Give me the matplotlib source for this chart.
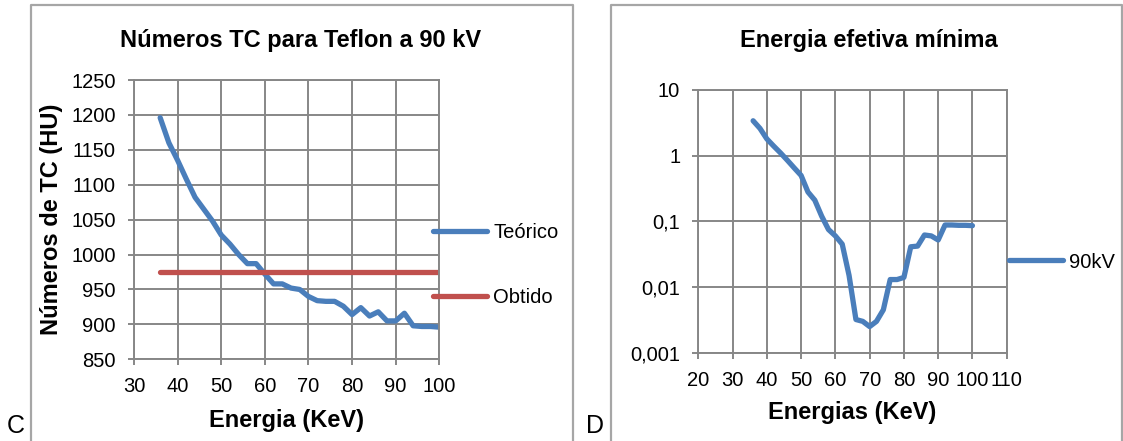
import numpy as np
import matplotlib.pyplot as plt
from matplotlib.lines import Line2D

plt.rcParams['font.family'] = ['Liberation Sans', 'DejaVu Sans']

# chart C: CT numbers for Teflon at 90 kV
energia_c = [36, 38, 40, 42, 44, 46, 48, 50, 52, 54, 56, 58, 60, 62, 64, 66, 68,
             70, 72, 74, 76, 78, 80, 82, 84, 86, 88, 90, 92, 94, 96, 98, 100]
teorico = [1196, 1160, 1135, 1108, 1082, 1065, 1048, 1028, 1015, 1000, 987, 987,
           972, 958, 958, 952, 950, 940, 934, 933, 933, 926, 914, 924, 912, 918,
           905, 905, 916, 898, 897, 897, 896]
obtido = [975] * len(energia_c)
xticks_c = [30, 40, 50, 60, 70, 80, 90, 100]
yticks_c = [850, 900, 950, 1000, 1050, 1100, 1150, 1200, 1250]

# chart D: minimum effective energy
energia_d = [36, 38, 40, 42, 44, 46, 48, 50, 52, 54, 56, 58, 60, 62, 64, 66, 68,
             70, 72, 74, 76, 78, 80, 82, 84, 86, 88, 90, 92, 94, 96, 98, 100]
kv90 = [3.4, 2.6, 1.8, 1.4, 1.1, 0.85, 0.65, 0.5, 0.28, 0.21, 0.12, 0.075, 0.06,
        0.045, 0.015, 0.0032, 0.003, 0.0025, 0.003, 0.0045, 0.013, 0.013, 0.014,
        0.041, 0.042, 0.062, 0.06, 0.052, 0.088, 0.088, 0.087, 0.087, 0.086]
xticks_d = [20, 30, 40, 50, 60, 70, 80, 90, 100, 110]
yticks_d = [0.001, 0.01, 0.1, 1, 10]
ylabels_d = ['0,001', '0,01', '0,1', '1', '10']

W, H = 1123, 441
BLUE = '#4a7ebb'
RED = '#c0504d'
GRID = '#878787'
LW = 3.8

fig = plt.figure(figsize=(W / 100, H / 100), dpi=100)


def px(x0, y0, x1, y1):
    # pixel box (top-left origin) -> figure fraction rect
    return [x0 / W, 1 - y1 / H, (x1 - x0) / W, (y1 - y0) / H]


def style(ax, pad):
    ax.grid(True, color=GRID, linewidth=1.4)
    ax.set_axisbelow(True)
    for s in ax.spines.values():
        s.set_color(GRID)
        s.set_linewidth(1.4)
    ax.tick_params(which='major', direction='out', length=4, width=1.4,
                   color=GRID, labelsize=14.5, pad=pad)
    ax.tick_params(which='minor', length=0)


# ---- C ----
ax1 = fig.add_axes(px(134, 80, 439.3, 359.3))
ax1.plot(energia_c, teorico, color=BLUE, lw=LW, solid_capstyle='round',
         solid_joinstyle='round', label='Teórico')
ax1.plot(energia_c, obtido, color=RED, lw=LW, solid_capstyle='round',
         label='Obtido')
ax1.set_xlim(30, 100)
ax1.set_ylim(850, 1250)
ax1.set_xticks(xticks_c)
ax1.set_yticks(yticks_c)
style(ax1, 9)
ax1.set_xlabel('Energia (KeV)', fontsize=17, fontweight='bold', labelpad=9)
ax1.set_ylabel('Números de TC (HU)', fontsize=17, fontweight='bold', labelpad=6)
fig.text(301 / W, 1 - 40 / H, 'Números TC para Teflon a 90 kV', fontsize=17,
         fontweight='bold', ha='center', va='center')
ax1.legend(loc='center left', bbox_to_anchor=(433 / W, 1 - 265 / H),
           bbox_transform=fig.transFigure, frameon=False, fontsize=14.5,
           handlelength=2.7, handletextpad=0.3, labelspacing=2.25,
           borderpad=0, borderaxespad=0)

# ---- D ----
ax2 = fig.add_axes(px(698.3, 90, 1006.7, 352.7))
ax2.plot(energia_d, kv90, color=BLUE, lw=LW, solid_capstyle='round',
         solid_joinstyle='round', label='90kV')
ax2.set_yscale('log')
ax2.set_xlim(20, 110)
ax2.set_ylim(0.001, 10)
ax2.set_xticks(xticks_d)
ax2.set_yticks(yticks_d)
ax2.set_yticklabels(ylabels_d)
ax2.minorticks_off()
style(ax2, 9)
ax2.set_xlabel('Energias (KeV)', fontsize=17, fontweight='bold', labelpad=8)
fig.text(869 / W, 1 - 40 / H, 'Energia efetiva mínima', fontsize=17,
         fontweight='bold', ha='center', va='center')
ax2.legend(loc='center left', bbox_to_anchor=(1009 / W, 1 - 262 / H),
           bbox_transform=fig.transFigure, frameon=False, fontsize=14.5,
           handlelength=2.7, handletextpad=0.3, borderpad=0, borderaxespad=0)

# chart frames
for x0, x1 in [(31, 572.5), (610.5, 1122)]:
    fig.add_artist(Line2D([x0 / W, x0 / W, x1 / W, x1 / W],
                          [0, 1 - 5 / H, 1 - 5 / H, 0],
                          transform=fig.transFigure, color='#a6a6a6', lw=1.6))

fig.text(7 / W, 1 - 414 / H, 'C', fontsize=18, ha='left', va='top')
fig.text(586 / W, 1 - 414 / H, 'D', fontsize=18, ha='left', va='top')

fig.savefig('out.png', dpi=100)
